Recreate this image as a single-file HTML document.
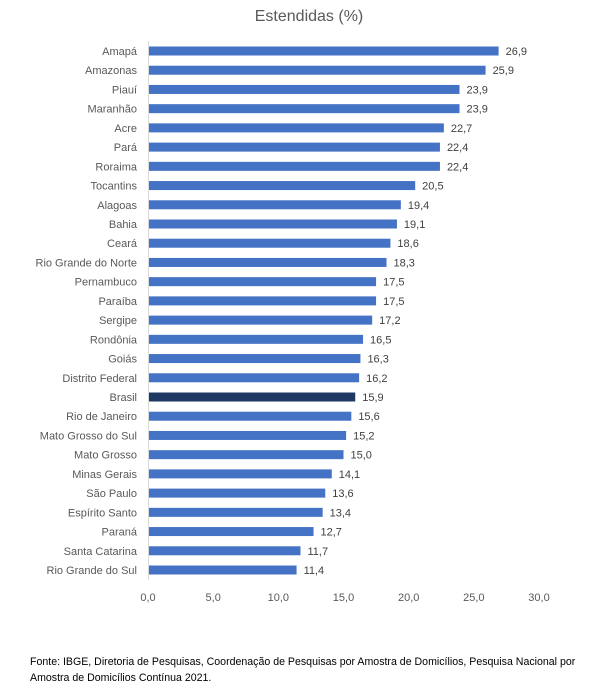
<!DOCTYPE html>
<html><head><meta charset="utf-8"><style>
body{margin:0;background:#fff;width:605px;height:694px;overflow:hidden;font-family:"Liberation Sans",sans-serif;}
</style></head><body>
<svg id="chart" width="605" height="694" xmlns="http://www.w3.org/2000/svg">
<text x="309" y="21" text-anchor="middle" font-size="16" fill="#595959" font-family="Liberation Sans, sans-serif">Estendidas (%)</text>
<g id="bars"></g>
<text x="30" y="665" font-size="10.6" fill="#000">Fonte: IBGE, Diretoria de Pesquisas, Coordenação de Pesquisas por Amostra de Domicílios, Pesquisa Nacional por</text>
<text x="30" y="681" font-size="10.6" fill="#000">Amostra de Domicílios Contínua 2021.</text>
</svg>
<script>
const categories=["Amapá","Amazonas","Piauí","Maranhão","Acre","Pará","Roraima","Tocantins","Alagoas","Bahia","Ceará","Rio Grande do Norte","Pernambuco","Paraíba","Sergipe","Rondônia","Goiás","Distrito Federal","Brasil","Rio de Janeiro","Mato Grosso do Sul","Mato Grosso","Minas Gerais","São Paulo","Espírito Santo","Paraná","Santa Catarina","Rio Grande do Sul"];
const values=[26.9,25.9,23.9,23.9,22.7,22.4,22.4,20.5,19.4,19.1,18.6,18.3,17.5,17.5,17.2,16.5,16.3,16.2,15.9,15.6,15.2,15.0,14.1,13.6,13.4,12.7,11.7,11.4];
const ticks=[0,5,10,15,20,25,30];
const NS="http://www.w3.org/2000/svg";
const x=v=>148+v*(539-148)/30;
const y=i=>51+i*(570-51)/27;
const g=document.getElementById('bars');
function mk(t,a){const e=document.createElementNS(NS,t);for(const k in a)e.setAttribute(k,a[k]);g.appendChild(e);return e;}
const fmt=v=>v.toFixed(1).replace('.',',');
const ax=mk('line',{x1:148.5,x2:148.5,y1:41,y2:580,stroke:'#d9d9d9','stroke-width':1});


categories.forEach((c,i)=>{
  const cy=y(i);
  const r=mk('rect',{x:149,y:cy-4.5,width:x(values[i])-149,height:9,fill:c==="Brasil"?"#203864":"#4472C4"});
  
  
  const l=mk('text',{x:137,y:cy+4,'text-anchor':'end','font-size':11,fill:'#595959'});
  l.textContent=c;
  
  
  const v=mk('text',{x:x(values[i])+7,y:cy+4,'font-size':11,fill:'#404040'});
  v.textContent=fmt(values[i]);
  
  
});
ticks.forEach(t=>{
  const e=mk('text',{x:x(t),y:601,'text-anchor':'middle','font-size':11,fill:'#595959'});
  e.textContent=fmt(t);
  
  
});
</script>
</body></html>
